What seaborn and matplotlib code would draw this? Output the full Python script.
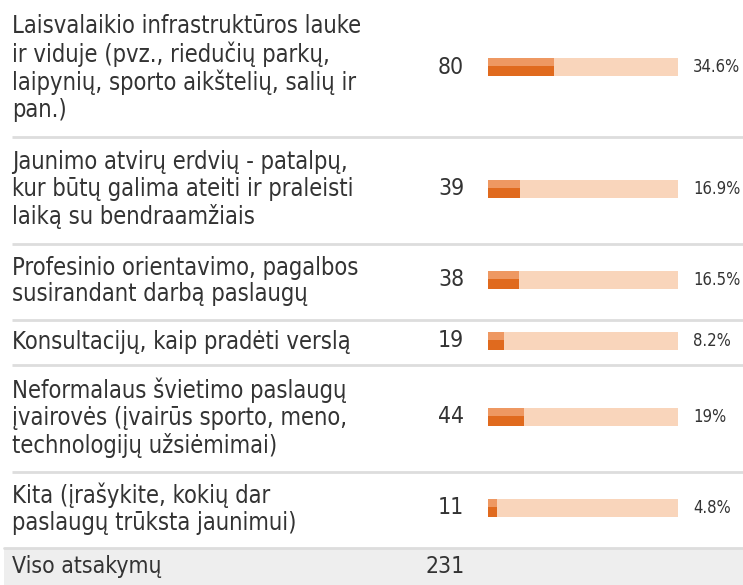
import matplotlib
matplotlib.use("Agg")
import matplotlib.pyplot as plt
from matplotlib import font_manager as fm
import numpy as np
import pandas as pd
import seaborn as sns

# Survey answers
labels = [
    "Laisvalaikio infrastruktūros lauke\nir viduje (pvz., riedučių parkų,\nlaipynių, sporto aikštelių, salių ir\npan.)",
    "Jaunimo atvirų erdvių - patalpų,\nkur būtų galima ateiti ir praleisti\nlaiką su bendraamžiais",
    "Profesinio orientavimo, pagalbos\nsusirandant darbą paslaugų",
    "Konsultacijų, kaip pradėti verslą",
    "Neformalaus švietimo paslaugų\nįvairovės (įvairūs sporto, meno,\ntechnologijų užsiėmimai)",
    "Kita (įrašykite, kokių dar\npaslaugų trūksta jaunimui)",
]
counts = [80, 39, 38, 19, 44, 11]
percents = [34.6, 16.9, 16.5, 8.2, 19, 4.8]
pct_labels = ["34.6%", "16.9%", "16.5%", "8.2%", "19%", "4.8%"]
total_label = "Viso atsakymų"
total = 231

sns.set_theme(style="white")
plt.rcParams["font.family"] = ["DejaVu Sans"]

# Condensed face when one is available
has_cond = any("DejaVuSansCondensed.ttf" in f.fname for f in fm.fontManager.ttflist)
plt.rcParams["font.stretch"] = "condensed" if has_cond else "normal"

TEXT = "#333333"
TRACK = "#F9D5BB"
FILL = "#E06A1E"
FILL_TOP = "#EE9862"
RULE = "#DDDDDD"
TOTAL_BG = "#EEEEEE"

LABEL_PT = 17.0
LINE_PX = 27.2

W, H = 743, 585
fig = plt.figure(figsize=(W / 100, H / 100), dpi=100)
ax = fig.add_axes([0, 0, 1, 1])
ax.set_xlim(0, W)
ax.set_ylim(H, 0)
ax.axis("off")

# Row geometry from the number of wrapped lines
n_lines = np.array([lab.count("\n") + 1 for lab in labels])
heights = 15 + 30.5 * n_lines
tops = np.concatenate([[0], np.cumsum(heights)[:-1]])
bottoms = tops + heights
centers = tops + heights / 2
bar_centers = centers - 1.5
total_top = bottoms[-1]

df = pd.DataFrame({"label": labels, "count": counts, "pct": percents,
                   "track": 100.0, "y": bar_centers})

# Bar area
bx = fig.add_axes([488 / W, 0, 190 / W, 1])
bar_h = 18
unit = np.min(np.diff(np.sort(bar_centers)))
sns.barplot(data=df, x="track", y="y", orient="h", native_scale=True,
            width=bar_h / unit, color=TRACK, saturation=1, linewidth=0,
            errorbar=None, ax=bx)
sns.barplot(data=df, x="pct", y="y", orient="h", native_scale=True,
            width=bar_h / unit, color=FILL, saturation=1, linewidth=0,
            errorbar=None, ax=bx)
# lighter upper half of the filled part
bx.barh(df["y"] - bar_h / 4 - 0.5, df["pct"], height=bar_h / 2 - 1,
        color=FILL_TOP, linewidth=0)
bx.set_xlim(0, 100)
bx.set_ylim(H, 0)
bx.axis("off")

label_ls = LINE_PX / (LABEL_PT * 100 / 72)
for i in range(len(labels)):
    ax.text(12, centers[i] - 0.5, labels[i], ha="left", va="center",
            fontsize=LABEL_PT, color=TEXT, linespacing=label_ls)
    ax.text(451, bar_centers[i], str(counts[i]), ha="center", va="center",
            fontsize=16.5, color=TEXT)
    ax.text(693, bar_centers[i], pct_labels[i], ha="left", va="center",
            fontsize=12, color=TEXT)
    if i < len(labels) - 1:
        ax.plot([12, W], [bottoms[i], bottoms[i]], color=RULE, lw=2,
                solid_capstyle="butt")

ax.add_patch(plt.Rectangle((4, total_top), W - 4, H - total_top,
                           color=TOTAL_BG, lw=0))
ax.plot([4, W], [total_top, total_top], color=RULE, lw=2)
tc = (total_top + H) / 2
ax.text(12, tc, total_label, ha="left", va="center", fontsize=16.5, color=TEXT)
ax.text(445, tc, str(total), ha="center", va="center", fontsize=16.5,
        color=TEXT)

fig.savefig("out.png", dpi=100)
